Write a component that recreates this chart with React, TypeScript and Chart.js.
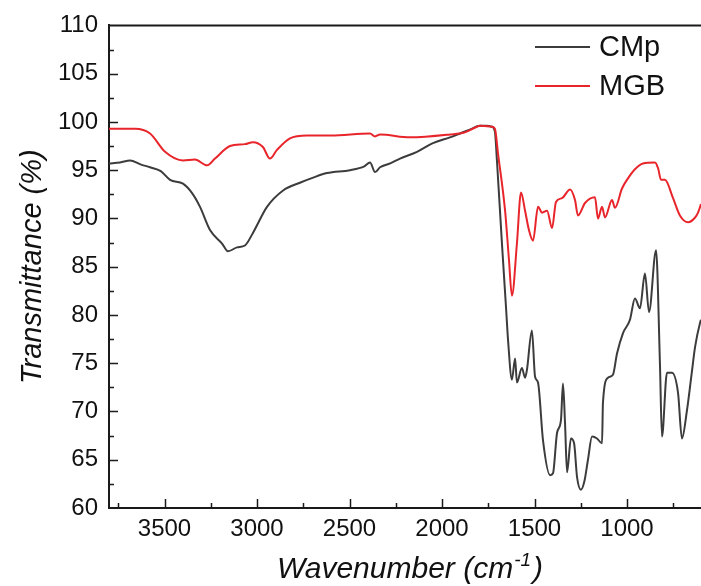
import React, { useEffect, useRef } from "react";
import { Chart, registerables } from "chart.js";

Chart.register(...registerables);

// ---- Data ----
const SERIES_LABELS = ["CMp", "MGB"];
const SERIES_COLORS = ["#3c3c3c", "#e8252b"];

const CMP_WN = [
  3800, 3740, 3686, 3630, 3578, 3520, 3470, 3400, 3350, 3308, 3254, 3189, 3157,
  3108, 3065, 3022, 2946, 2859, 2768, 2700, 2622, 2497, 2420, 2389, 2362, 2335,
  2280, 2227, 2135, 2049, 1957, 1903, 1850, 1795, 1760, 1730, 1714, 1703, 1676,
  1654, 1643, 1622, 1605, 1595, 1568, 1551, 1541, 1514, 1497, 1481, 1454, 1416,
  1400, 1378, 1357, 1346, 1335, 1324, 1303, 1286, 1270, 1249, 1230, 1211, 1189,
  1162, 1135, 1130, 1103, 1076, 1054, 1022, 984, 957, 930, 903, 881, 843, 822,
  811, 784, 757, 724, 703, 676, 650, 632, 605, 600,
];
const CMP_T = [
  95.7, 95.8, 96.0, 95.6, 95.3, 94.9, 94.0, 93.6, 92.6, 91.2, 88.8, 87.4, 86.6,
  87.0, 87.2, 88.5, 91.2, 92.9, 93.7, 94.2, 94.7, 95.0, 95.4, 95.8, 94.8, 95.3,
  95.7, 96.2, 96.9, 97.8, 98.4, 98.8, 99.2, 99.6, 99.6, 99.5, 99.0, 96.0, 87.4,
  80.8, 77.4, 73.3, 75.5, 73.0, 74.5, 73.5, 74.3, 78.4, 73.6, 73.0, 67.0, 63.4,
  63.6, 67.8, 69.1, 72.9, 68.8, 63.7, 67.2, 66.7, 63.2, 61.9, 62.8, 65.0, 67.4,
  67.2, 66.7, 70.9, 73.5, 73.8, 76.0, 78.1, 79.5, 81.7, 80.7, 84.3, 80.3, 86.7,
  75.0, 67.4, 74.0, 74.0, 71.9, 67.2, 70.1, 74.0, 76.7, 79.2, 79.5,
];

const MGB_WN = [
  3800, 3720, 3659, 3578, 3497, 3400, 3335, 3270, 3227, 3146, 3065, 3022, 2968,
  2930, 2892, 2822, 2730, 2600, 2389, 2362, 2335, 2173, 1957, 1880, 1811, 1795,
  1730, 1714, 1697, 1659, 1638, 1622, 1595, 1573, 1551, 1530, 1508, 1481, 1459,
  1432, 1405, 1384, 1351, 1308, 1281, 1265, 1227, 1173, 1157, 1135, 1119, 1081,
  1065, 1027, 1000, 957, 914, 849, 832, 816, 795, 751, 714, 670, 632, 616, 600,
];
const MGB_T = [
  99.3, 99.3, 99.3, 98.8, 96.9, 96.0, 96.1, 95.5, 96.2, 97.5, 97.7, 97.9, 97.4,
  96.2, 97.1, 98.3, 98.6, 98.6, 98.8, 98.5, 98.7, 98.4, 98.7, 98.9, 99.5, 99.6,
  99.5, 99.3, 96.7, 90.8, 85.7, 82.0, 87.4, 92.7, 90.8, 88.8, 87.7, 91.2, 90.6,
  90.8, 89.0, 91.7, 92.1, 93.0, 91.9, 90.3, 91.6, 92.2, 90.0, 91.2, 90.1, 91.9,
  91.1, 93.1, 94.0, 95.1, 95.7, 95.8, 95.2, 94.0, 94.0, 92.1, 90.3, 89.6, 90.1,
  90.6, 91.5,
];

const X_TICKS = [3500, 3000, 2500, 2000, 1500, 1000];
const X_MINOR = [3750, 3250, 2750, 2250, 1750, 1250, 750];
const Y_TICKS = [60, 65, 70, 75, 80, 85, 90, 95, 100, 105, 110];
const Y_MINOR = [62.5, 67.5, 72.5, 77.5, 82.5, 87.5, 92.5, 97.5, 102.5, 107.5];

const X_TITLE = "Wavenumber (cm";
const X_TITLE_SUP = "-1";
const X_TITLE_END = ")";
const Y_TITLE = "Transmittance (%)";

const FONT = "'Liberation Sans', Arial, sans-serif";
const AXIS_COLOR = "#1a1a1a";

const framePlugin = {
  id: "framePlugin",
  afterDraw(chart: any) {
    const { ctx, chartArea, scales } = chart;
    const xs = scales.x;
    const ys = scales.y;
    ctx.save();
    ctx.strokeStyle = AXIS_COLOR;
    ctx.lineWidth = 2;
    // top frame line
    ctx.beginPath();
    ctx.moveTo(chartArea.left, chartArea.top);
    ctx.lineTo(chartArea.right, chartArea.top);
    ctx.stroke();
    // inward ticks
    ctx.lineWidth = 1.5;
    const drawX = (vals: number[], len: number) => {
      vals.forEach((v) => {
        const px = Math.round(xs.getPixelForValue(v)) + 0.5;
        ctx.beginPath();
        ctx.moveTo(px, chartArea.bottom);
        ctx.lineTo(px, chartArea.bottom - len);
        ctx.stroke();
      });
    };
    const drawY = (vals: number[], len: number) => {
      vals.forEach((v) => {
        const py = Math.round(ys.getPixelForValue(v)) + 0.5;
        ctx.beginPath();
        ctx.moveTo(chartArea.left, py);
        ctx.lineTo(chartArea.left + len, py);
        ctx.stroke();
      });
    };
    drawX(X_TICKS, 9);
    drawX(X_MINOR, 5);
    drawY(Y_TICKS.filter((v) => v !== 60 && v !== 110), 9);
    drawY(Y_MINOR, 5);

    // x axis title with superscript
    const mainFont = `italic 30px ${FONT}`;
    const supFont = `italic 19px ${FONT}`;
    ctx.fillStyle = "#111";
    ctx.textBaseline = "alphabetic";
    ctx.textAlign = "left";
    ctx.font = mainFont;
    const w1 = ctx.measureText(X_TITLE).width;
    const w3 = ctx.measureText(X_TITLE_END).width;
    ctx.font = supFont;
    const w2 = ctx.measureText(X_TITLE_SUP).width;
    const total = w1 + w2 + w3 + 3;
    const cx = 410;
    let x = cx - total / 2;
    const base = 578;
    ctx.font = mainFont;
    ctx.fillText(X_TITLE, x, base);
    x += w1;
    ctx.font = supFont;
    ctx.fillText(X_TITLE_SUP, x + 1, base - 12);
    x += w2 + 3;
    ctx.font = mainFont;
    ctx.fillText(X_TITLE_END, x, base);

    // legend
    chart.data.datasets.forEach((ds: any, i: number) => {
      const y = 47 + i * 39;
      ctx.strokeStyle = ds.borderColor;
      ctx.lineWidth = 2;
      ctx.beginPath();
      ctx.moveTo(535, y);
      ctx.lineTo(590, y);
      ctx.stroke();
      ctx.fillStyle = "#111";
      ctx.font = `29px ${FONT}`;
      ctx.textBaseline = "middle";
      ctx.textAlign = "left";
      ctx.fillText(ds.label, 599, y + 1);
    });
    ctx.restore();
  },
};

export default function App() {
  const canvasRef = useRef<HTMLCanvasElement | null>(null);

  useEffect(() => {
    if (!canvasRef.current) return;
    const chart = new Chart(canvasRef.current, {
      type: "line",
      data: {
        datasets: [
          {
            label: SERIES_LABELS[0],
            data: CMP_WN.map((x, i) => ({ x, y: CMP_T[i] })),
            borderColor: SERIES_COLORS[0],
            borderWidth: 2,
            pointRadius: 0,
            cubicInterpolationMode: "monotone",
            order: 1,
          },
          {
            label: SERIES_LABELS[1],
            data: MGB_WN.map((x, i) => ({ x, y: MGB_T[i] })),
            borderColor: SERIES_COLORS[1],
            borderWidth: 2,
            pointRadius: 0,
            cubicInterpolationMode: "monotone",
            order: 0,
          },
        ],
      },
      options: {
        animation: false,
        responsive: false,
        devicePixelRatio: 1,
        layout: { padding: { top: 25, right: 0, left: 0, bottom: 0 } },
        plugins: { legend: { display: false }, tooltip: { enabled: false } },
        scales: {
          x: {
            type: "linear",
            reverse: true,
            min: 600,
            max: 3800,
            grid: { display: false, drawTicks: false },
            border: { display: true, color: AXIS_COLOR, width: 2 },
            ticks: {
              font: { family: FONT, size: 24 },
              color: "#111",
              padding: 7,
              maxRotation: 0,
              autoSkip: false,
              callback: (v: any) => String(v),
            },
            afterBuildTicks: (scale: any) => {
              scale.ticks = X_TICKS.map((v) => ({ value: v }));
            },
            afterFit: (scale: any) => {
              scale.height = 78;
            },
          },
          y: {
            type: "linear",
            min: 60,
            max: 110,
            grid: { display: false, drawTicks: false },
            border: { display: true, color: AXIS_COLOR, width: 2 },
            ticks: {
              font: { family: FONT, size: 24 },
              color: "#111",
              padding: 11,
              callback: (v: any) => String(v),
            },
            afterBuildTicks: (scale: any) => {
              scale.ticks = Y_TICKS.map((v) => ({ value: v }));
            },
            afterFit: (scale: any) => {
              scale.width = 109;
            },
            title: {
              display: true,
              text: Y_TITLE,
              color: "#111",
              font: { family: FONT, size: 29, style: "italic" },
              padding: { top: 16, bottom: 0 },
            },
          },
        },
      },
      plugins: [framePlugin],
    } as any);
    return () => chart.destroy();
  }, []);

  return (
    <div style={{ position: "absolute", left: 0, top: 0, width: 701, height: 586, background: "#fff" }}>
      <canvas ref={canvasRef} width={701} height={586} />
    </div>
  );
}
